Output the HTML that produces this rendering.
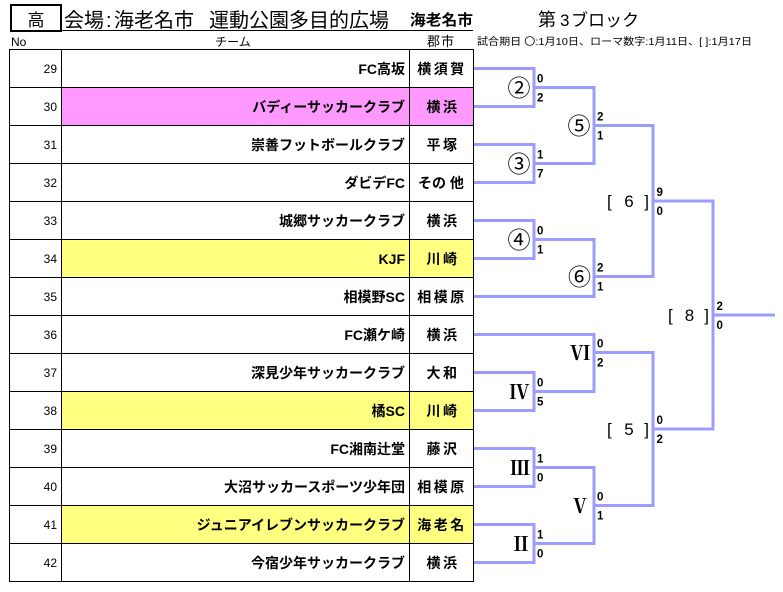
<!DOCTYPE html>
<html>
<head>
<meta charset="utf-8">
<style>
html,body{margin:0;padding:0;background:#fff;}
svg{display:block;}
text{font-family:"Liberation Sans","Noto Sans CJK JP",sans-serif;fill:#000;}
.num{font-size:12px;}
.team{font-size:14px;font-weight:bold;}
.city{font-size:14px;font-weight:bold;letter-spacing:2.5px;}
.sc{font-size:11.5px;font-weight:bold;}
.cir{font-size:23px;}
.rom{font-family:"Liberation Serif","Noto Serif CJK JP",serif;font-size:20px;font-weight:bold;}
.br{font-size:17px;}
</style>
</head>
<body>
<svg width="783" height="592" viewBox="0 0 783 592" xmlns="http://www.w3.org/2000/svg">
<!-- Header -->
<rect x="11" y="5" width="50" height="26" fill="none" stroke="#000" stroke-width="2"/>
<text x="36" y="26" font-size="17" text-anchor="middle">高</text>
<line x1="10" y1="30.5" x2="473" y2="30.5" stroke="#000" stroke-width="1"/>
<text x="64" y="27" font-size="20">会場</text>
<text x="106" y="27" font-size="20">:</text>
<text x="114" y="27" font-size="20">海老名市</text>
<text x="209" y="27" font-size="20">運動公園多目的広場</text>
<text x="410" y="25" font-size="15" font-weight="bold" textLength="63" lengthAdjust="spacingAndGlyphs">海老名市</text>
<text x="538" y="26" font-size="18">第</text>
<text x="560" y="26" font-size="17">3</text>
<text x="571" y="26" font-size="17" textLength="68" lengthAdjust="spacingAndGlyphs">ブロック</text>

<text x="11" y="46" font-size="12">No</text>
<text x="233" y="46" font-size="12" text-anchor="middle">チーム</text>
<text x="441" y="46" font-size="13" text-anchor="middle" letter-spacing="1">郡市</text>
<text x="477" y="45" font-size="10" textLength="275" lengthAdjust="spacingAndGlyphs">試合期日 〇:1月10日、ローマ数字:1月11日、[ ]:1月17日</text>

<!-- Row fills -->
<rect x="62" y="88" width="411" height="38" fill="#ff99ff"/>
<rect x="62" y="240" width="411" height="38" fill="#ffff80"/>
<rect x="62" y="392" width="411" height="38" fill="#ffff80"/>
<rect x="62" y="506" width="411" height="38" fill="#ffff80"/>

<!-- Table grid -->
<g stroke="#000" stroke-width="1" fill="none">
<line x1="9.5" y1="49.5" x2="9.5" y2="581.5"/>
<line x1="61.5" y1="49.5" x2="61.5" y2="581.5"/>
<line x1="409.5" y1="49.5" x2="409.5" y2="581.5"/>
<line x1="473.5" y1="49.5" x2="473.5" y2="581.5"/>
<line x1="9" y1="49.5" x2="474" y2="49.5"/>
<line x1="9" y1="87.5" x2="474" y2="87.5"/>
<line x1="9" y1="125.5" x2="474" y2="125.5"/>
<line x1="9" y1="163.5" x2="474" y2="163.5"/>
<line x1="9" y1="201.5" x2="474" y2="201.5"/>
<line x1="9" y1="239.5" x2="474" y2="239.5"/>
<line x1="9" y1="277.5" x2="474" y2="277.5"/>
<line x1="9" y1="315.5" x2="474" y2="315.5"/>
<line x1="9" y1="353.5" x2="474" y2="353.5"/>
<line x1="9" y1="391.5" x2="474" y2="391.5"/>
<line x1="9" y1="429.5" x2="474" y2="429.5"/>
<line x1="9" y1="467.5" x2="474" y2="467.5"/>
<line x1="9" y1="505.5" x2="474" y2="505.5"/>
<line x1="9" y1="543.5" x2="474" y2="543.5"/>
<line x1="9" y1="581.5" x2="474" y2="581.5"/>
</g>

<!-- Row text -->
<g text-anchor="end">
<text class="num" x="57" y="73">29</text>
<text class="num" x="57" y="111">30</text>
<text class="num" x="57" y="149">31</text>
<text class="num" x="57" y="187">32</text>
<text class="num" x="57" y="225">33</text>
<text class="num" x="57" y="263">34</text>
<text class="num" x="57" y="301">35</text>
<text class="num" x="57" y="339">36</text>
<text class="num" x="57" y="377">37</text>
<text class="num" x="57" y="415">38</text>
<text class="num" x="57" y="453">39</text>
<text class="num" x="57" y="491">40</text>
<text class="num" x="57" y="529">41</text>
<text class="num" x="57" y="567">42</text>
</g>
<g text-anchor="end">
<text class="team" x="405" y="74">FC高坂</text>
<text class="team" x="405" y="112">バディーサッカークラブ</text>
<text class="team" x="405" y="150">崇善フットボールクラブ</text>
<text class="team" x="405" y="188">ダビデFC</text>
<text class="team" x="405" y="226">城郷サッカークラブ</text>
<text class="team" x="405" y="264">KJF</text>
<text class="team" x="405" y="302">相模野SC</text>
<text class="team" x="405" y="340">FC瀬ケ崎</text>
<text class="team" x="405" y="378">深見少年サッカークラブ</text>
<text class="team" x="405" y="416">橘SC</text>
<text class="team" x="405" y="454">FC湘南辻堂</text>
<text class="team" x="405" y="492">大沼サッカースポーツ少年団</text>
<text class="team" x="405" y="530">ジュニアイレブンサッカークラブ</text>
<text class="team" x="405" y="568">今宿少年サッカークラブ</text>
</g>
<g text-anchor="middle">
<text class="city" x="442" y="74">横須賀</text>
<text class="city" x="443" y="112">横浜</text>
<text class="city" x="443" y="150">平塚</text>
<text x="441" y="188" font-size="14" font-weight="bold">その 他</text>
<text class="city" x="443" y="226">横浜</text>
<text class="city" x="443" y="264">川崎</text>
<text class="city" x="442" y="302">相模原</text>
<text class="city" x="443" y="340">横浜</text>
<text class="city" x="443" y="378">大和</text>
<text class="city" x="443" y="416">川崎</text>
<text class="city" x="443" y="454">藤沢</text>
<text class="city" x="442" y="492">相模原</text>
<text class="city" x="442" y="530">海老名</text>
<text class="city" x="443" y="568">横浜</text>
</g>

<!-- Bracket lines -->
<g fill="none" stroke="#9c9cff" stroke-width="3" stroke-linejoin="miter">
<path d="M474 68.5 H534 V106.5 H474"/>
<path d="M474 144.5 H534 V182.5 H474"/>
<path d="M474 220.5 H534 V258.5 H474"/>
<path d="M474 372.5 H534 V410.5 H474"/>
<path d="M474 448.5 H534 V486.5 H474"/>
<path d="M474 524.5 H534 V562.5 H474"/>
<path d="M534 87.5 H594 V163.5 H534"/>
<path d="M474 296.5 H594 V239.5 H534"/>
<path d="M474 334.5 H594 V391.5 H534"/>
<path d="M534 467.5 H594 V543.5 H534"/>
<path d="M594 125.5 H653 V276.5 H594"/>
<path d="M594 352.5 H653 V505.5 H594"/>
<path d="M653 201 H713 V429 H653"/>
<path d="M713 315 H775"/>
</g>

<!-- Match labels -->
<g text-anchor="middle">
<text class="cir" x="519" y="96">②</text>
<text class="cir" x="519" y="172">③</text>
<text class="cir" x="519" y="248">④</text>
<text class="cir" x="579" y="134">⑤</text>
<text class="cir" x="579.5" y="285">⑥</text>
<text class="rom" x="580" y="360">Ⅵ</text>
<text class="rom" x="519.5" y="399">Ⅳ</text>
<text class="rom" x="520" y="475">Ⅲ</text>
<text class="rom" x="580" y="513">Ⅴ</text>
<text class="rom" x="521" y="551">Ⅱ</text>
</g>
<text class="br" x="607" y="207">[</text>
<text class="br" x="629" y="207" text-anchor="middle">6</text>
<text class="br" x="649" y="207" text-anchor="end">]</text>
<text class="br" x="607" y="435">[</text>
<text class="br" x="629" y="435" text-anchor="middle">5</text>
<text class="br" x="649" y="435" text-anchor="end">]</text>
<text class="br" x="668" y="321">[</text>
<text class="br" x="689.5" y="321" text-anchor="middle">8</text>
<text class="br" x="709" y="321" text-anchor="end">]</text>

<!-- Scores -->
<text class="sc" x="537" y="82.5">0</text>
<text class="sc" x="537" y="101.5">2</text>
<text class="sc" x="537" y="158.5">1</text>
<text class="sc" x="537" y="177.5">7</text>
<text class="sc" x="537" y="234.5">0</text>
<text class="sc" x="537" y="253.5">1</text>
<text class="sc" x="537" y="386.5">0</text>
<text class="sc" x="537" y="405.5">5</text>
<text class="sc" x="537" y="462.5">1</text>
<text class="sc" x="537" y="481.5">0</text>
<text class="sc" x="537" y="538.5">1</text>
<text class="sc" x="537" y="557.5">0</text>
<text class="sc" x="597" y="120.5">2</text>
<text class="sc" x="597" y="139.5">1</text>
<text class="sc" x="597" y="271.5">2</text>
<text class="sc" x="597" y="290.5">1</text>
<text class="sc" x="597" y="347.5">0</text>
<text class="sc" x="597" y="366.5">2</text>
<text class="sc" x="597" y="500.5">0</text>
<text class="sc" x="597" y="519.5">1</text>
<text class="sc" x="656.5" y="196">9</text>
<text class="sc" x="656.5" y="215">0</text>
<text class="sc" x="656.5" y="424">0</text>
<text class="sc" x="656.5" y="443">2</text>
<text class="sc" x="716.5" y="310">2</text>
<text class="sc" x="716.5" y="329">0</text>
</svg>
</body>
</html>
